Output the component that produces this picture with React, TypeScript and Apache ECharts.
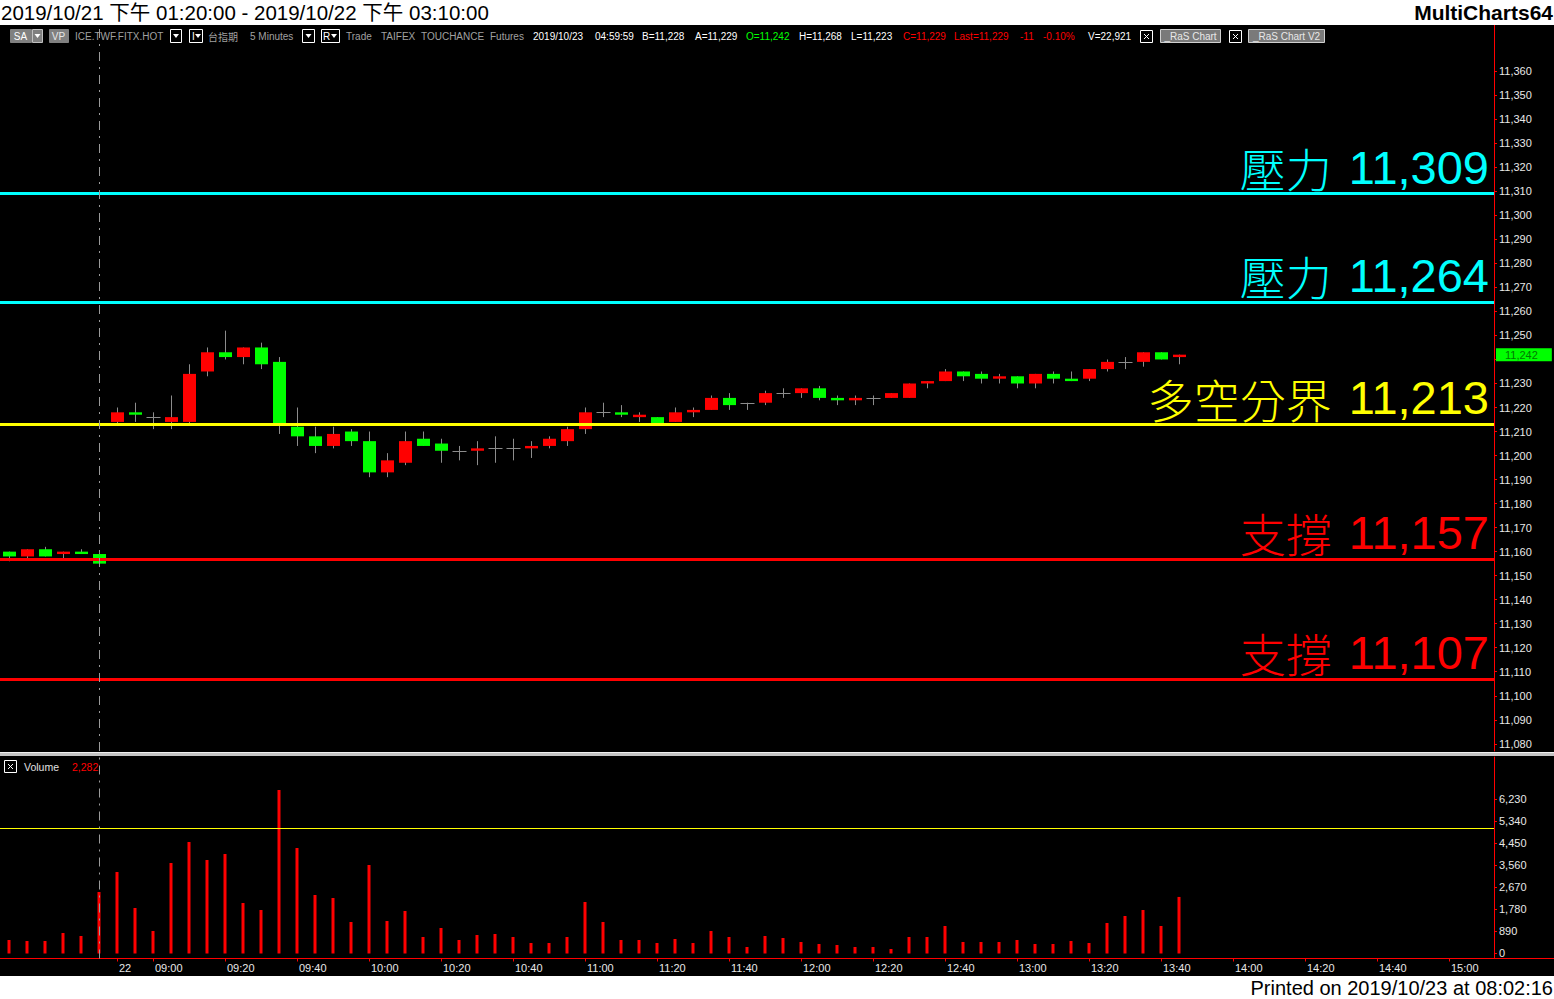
import React, { useEffect, useRef } from 'react';
import * as echarts from 'echarts';

// ---------- data ----------
const categories = [
  '10/21 13:20', '10/21 13:25', '10/21 13:30', '10/21 13:35', '10/21 13:40', '10/21 13:45',
  '10/22 08:50', '10/22 08:55',
  '10/22 09:00', '10/22 09:05', '10/22 09:10', '10/22 09:15', '10/22 09:20', '10/22 09:25',
  '10/22 09:30', '10/22 09:35', '10/22 09:40', '10/22 09:45', '10/22 09:50', '10/22 09:55',
  '10/22 10:00', '10/22 10:05', '10/22 10:10', '10/22 10:15', '10/22 10:20', '10/22 10:25',
  '10/22 10:30', '10/22 10:35', '10/22 10:40', '10/22 10:45', '10/22 10:50', '10/22 10:55',
  '10/22 11:00', '10/22 11:05', '10/22 11:10', '10/22 11:15', '10/22 11:20', '10/22 11:25',
  '10/22 11:30', '10/22 11:35', '10/22 11:40', '10/22 11:45', '10/22 11:50', '10/22 11:55',
  '10/22 12:00', '10/22 12:05', '10/22 12:10', '10/22 12:15', '10/22 12:20', '10/22 12:25',
  '10/22 12:30', '10/22 12:35', '10/22 12:40', '10/22 12:45', '10/22 12:50', '10/22 12:55',
  '10/22 13:00', '10/22 13:05', '10/22 13:10', '10/22 13:15', '10/22 13:20', '10/22 13:25',
  '10/22 13:30', '10/22 13:35', '10/22 13:40', '10/22 13:45', '10/22 13:50', '10/22 13:55',
  '10/22 14:00', '10/22 14:05', '10/22 14:10', '10/22 14:15', '10/22 14:20', '10/22 14:25',
  '10/22 14:30', '10/22 14:35', '10/22 14:40', '10/22 14:45', '10/22 14:50', '10/22 14:55',
  '10/22 15:00', '10/22 15:05', '10/22 15:10',
];

// [open, close, low, high]
const candles = [
  [11160, 11158, 11156, 11160], [11158, 11161, 11157, 11161], [11161, 11158, 11158, 11162],
  [11159, 11160, 11157, 11160], [11160, 11159, 11159, 11161], [11159, 11155, 11154, 11160],
  [11214, 11218, 11213, 11220], [11218, 11217, 11214, 11222], [11216, 11216, 11211, 11218],
  [11214, 11216, 11211, 11225], [11214, 11234, 11213, 11238], [11235, 11243, 11233, 11245],
  [11243, 11241, 11240, 11252], [11241, 11245, 11238, 11245], [11245, 11238, 11236, 11247],
  [11239, 11213, 11209, 11241], [11212, 11208, 11204, 11220], [11208, 11204, 11201, 11212],
  [11204, 11209, 11203, 11212], [11210, 11206, 11204, 11211], [11206, 11193, 11191, 11210],
  [11193, 11198, 11191, 11201], [11197, 11206, 11196, 11210], [11207, 11204, 11204, 11210],
  [11205, 11202, 11197, 11207], [11202, 11202, 11198, 11204], [11202, 11203, 11196, 11206],
  [11203, 11203, 11197, 11208], [11203, 11203, 11198, 11207], [11203, 11204, 11199, 11206],
  [11204, 11207, 11203, 11208], [11206, 11211, 11204, 11212], [11211, 11218, 11209, 11220],
  [11218, 11218, 11216, 11222], [11218, 11217, 11216, 11221], [11216, 11217, 11214, 11218],
  [11216, 11213, 11213, 11216], [11214, 11218, 11214, 11220], [11218, 11219, 11216, 11220],
  [11219, 11224, 11219, 11225], [11224, 11221, 11219, 11226], [11222, 11222, 11219, 11222],
  [11222, 11226, 11221, 11227], [11226, 11226, 11224, 11228], [11226, 11228, 11224, 11228],
  [11228, 11224, 11223, 11229], [11224, 11223, 11221, 11225], [11223, 11224, 11221, 11225],
  [11224, 11224, 11221, 11225], [11224, 11226, 11224, 11226], [11224, 11230, 11224, 11230],
  [11230, 11231, 11228, 11231], [11231, 11235, 11231, 11236], [11235, 11233, 11231, 11235],
  [11234, 11232, 11230, 11235], [11232, 11233, 11230, 11234], [11233, 11230, 11228, 11233],
  [11230, 11234, 11228, 11234], [11234, 11232, 11230, 11235], [11232, 11231, 11231, 11235],
  [11232, 11236, 11231, 11236], [11236, 11239, 11235, 11240], [11239, 11239, 11236, 11241],
  [11239, 11243, 11237, 11243], [11243, 11240, 11240, 11243], [11241, 11242, 11238, 11242],
];

const volumes = [
  545, 504, 504, 827, 706, 2481, 3289, 1836, 908, 3652, 4499, 3773, 4015, 2038, 1755, 6597,
  4257, 2360, 2239, 1271, 3571, 1311, 1715, 666, 1029, 545, 746, 787, 666, 424, 424, 666,
  2078, 1271, 545, 545, 424, 585, 424, 908, 666, 262, 706, 625, 464, 383, 343, 262, 262,
  182, 666, 666, 1110, 464, 464, 464, 545, 383, 383, 504, 424, 1231, 1513, 1755, 1110, 2282,
];

const priceTicks = [
  11080, 11090, 11100, 11110, 11120, 11130, 11140, 11150, 11160, 11170, 11180, 11190, 11200,
  11210, 11220, 11230, 11240, 11250, 11260, 11270, 11280, 11290, 11300, 11310, 11320, 11330,
  11340, 11350, 11360,
];
const volumeTicks = [0, 890, 1780, 2670, 3560, 4450, 5340, 6230];

const xTickCats = [
  '10/22 08:50', '10/22 09:00', '10/22 09:20', '10/22 09:40', '10/22 10:00', '10/22 10:20',
  '10/22 10:40', '10/22 11:00', '10/22 11:20', '10/22 11:40', '10/22 12:00', '10/22 12:20',
  '10/22 12:40', '10/22 13:00', '10/22 13:20', '10/22 13:40', '10/22 14:00', '10/22 14:20',
  '10/22 14:40', '10/22 15:00',
];
const xTickTexts = [
  '22', '09:00', '09:20', '09:40', '10:00', '10:20', '10:40', '11:00', '11:20', '11:40',
  '12:00', '12:20', '12:40', '13:00', '13:20', '13:40', '14:00', '14:20', '14:40', '15:00',
];

const levelNames = ['壓力', '壓力', '多空分界', '支撐', '支撐'];
const levelValues = [11309, 11264, 11213, 11157, 11107];
const volumeAlert = 5050;
const sessionBreak = '10/21 13:45';

const titleText = '2019/10/21 下午 01:20:00 - 2019/10/22 下午 03:10:00';
const brandText = 'MultiCharts64';
const printedText = 'Printed on 2019/10/23 at 08:02:16';

// ---------- styles ----------
const levelColors = ['#00ffff', '#00ffff', '#ffff00', '#ff0000', '#ff0000'];
const F = "'Liberation Sans', Arial, 'Noto Sans CJK TC', sans-serif";
const CJK = "'Noto Sans CJK TC', 'Noto Sans CJK SC', sans-serif";
const fmt = (v: number) => v.toLocaleString('en-US');

function tbText(x: number, text: string, fill: string, family = F) {
  return {
    type: 'text', x, y: 36, z: 50,
    style: { text, fill, font: `10px ${family}`, textVerticalAlign: 'middle', verticalAlign: 'middle' },
  };
}
function tri(cx: number, fill = '#ffffff') {
  return {
    type: 'polygon', z: 51,
    shape: { points: [[cx - 3, 34], [cx + 3, 34], [cx, 38]] },
    style: { fill },
  };
}
function box(x: number, w: number, fill = '#000000', stroke = '#ffffff') {
  return {
    type: 'rect', z: 50,
    shape: { x: x + 0.5, y: 29.5, width: w, height: 13 },
    style: { fill, stroke, lineWidth: 1 },
  };
}
function xBox(x: number, y: number) {
  return [
    { type: 'rect', z: 50, shape: { x: x + 0.5, y: y + 0.5, width: 12, height: 12 }, style: { fill: '#000', stroke: '#fff', lineWidth: 1 } },
    { type: 'line', z: 51, shape: { x1: x + 4, y1: y + 4, x2: x + 9, y2: y + 9 }, style: { stroke: '#fff', lineWidth: 1 } },
    { type: 'line', z: 51, shape: { x1: x + 9, y1: y + 4, x2: x + 4, y2: y + 9 }, style: { stroke: '#fff', lineWidth: 1 } },
  ];
}

function buildGraphics() {
  const g: any[] = [];
  // backgrounds
  g.push({ type: 'rect', z: -10, silent: true, shape: { x: 0, y: 0, width: 1554, height: 999 }, style: { fill: '#ffffff' } });
  g.push({ type: 'rect', z: -9, silent: true, shape: { x: 0, y: 25, width: 1554, height: 951 }, style: { fill: '#000000' } });
  // title row
  g.push({ type: 'text', x: 1, y: 12.5, z: 50, style: { text: titleText, fill: '#000', font: `20.5px ${F}`, textVerticalAlign: 'middle', verticalAlign: 'middle' } });
  g.push({ type: 'text', x: 1553, y: 12.5, z: 50, style: { text: brandText, fill: '#000', font: `bold 21px ${F}`, textAlign: 'right', align: 'right', textVerticalAlign: 'middle', verticalAlign: 'middle' } });
  g.push({ type: 'text', x: 1553, y: 988, z: 50, style: { text: printedText, fill: '#000', font: `20px ${F}`, textAlign: 'right', align: 'right', textVerticalAlign: 'middle', verticalAlign: 'middle' } });
  // pane separator
  g.push({ type: 'rect', z: 40, silent: true, shape: { x: 0, y: 752, width: 1554, height: 4 }, style: { fill: '#c4c4c4' } });
  g.push({ type: 'line', z: 41, silent: true, shape: { x1: 0, y1: 752.5, x2: 1554, y2: 752.5 }, style: { stroke: '#f0f0f0', lineWidth: 1 } });
  // axis extensions (decoration)
  g.push({ type: 'line', z: 40, silent: true, shape: { x1: 1494, y1: 958.5, x2: 1554, y2: 958.5 }, style: { stroke: '#ff0000', lineWidth: 1 } });
  g.push({ type: 'line', z: 40, silent: true, shape: { x1: 1494.5, y1: 25, x2: 1494.5, y2: 28 }, style: { stroke: '#ff0000', lineWidth: 1 } });

  // toolbar
  g.push(box(10, 21, '#808080', '#808080'));
  g.push({ type: 'text', x: 20.5, y: 36, z: 52, style: { text: 'SA', fill: '#ffffff', font: `10px ${F}`, textAlign: 'center', align: 'center', textVerticalAlign: 'middle', verticalAlign: 'middle' } });
  g.push(box(32, 10, '#808080', '#c0c0c0'));
  g.push(tri(37.5));
  g.push(box(49, 19, '#808080', '#808080'));
  g.push({ type: 'text', x: 58.5, y: 36, z: 52, style: { text: 'VP', fill: '#e8e8e8', font: `10px ${F}`, textAlign: 'center', align: 'center', textVerticalAlign: 'middle', verticalAlign: 'middle' } });
  g.push(tbText(75, 'ICE.TWF.FITX.HOT', '#a0a0a0'));
  g.push(box(170, 11));
  g.push(tri(176));
  g.push(box(189, 13));
  g.push(tbText(192, 'I', '#ffffff'));
  g.push(tri(198));
  g.push(tbText(208, '台指期', '#a0a0a0', CJK));
  g.push(tbText(250, '5 Minutes', '#a0a0a0'));
  g.push(box(302, 12));
  g.push(tri(308.5));
  g.push(box(321, 18));
  g.push(tbText(323, 'R', '#ffffff'));
  g.push(tri(334));
  g.push(tbText(346, 'Trade', '#a0a0a0'));
  g.push(tbText(381, 'TAIFEX', '#a0a0a0'));
  g.push(tbText(421, 'TOUCHANCE', '#a0a0a0'));
  g.push(tbText(490, 'Futures', '#a0a0a0'));
  g.push(tbText(533, '2019/10/23', '#ffffff'));
  g.push(tbText(595, '04:59:59', '#ffffff'));
  g.push(tbText(642, 'B=11,228', '#ffffff'));
  g.push(tbText(695, 'A=11,229', '#ffffff'));
  g.push(tbText(746, 'O=11,242', '#00ff00'));
  g.push(tbText(799, 'H=11,268', '#ffffff'));
  g.push(tbText(851, 'L=11,223', '#ffffff'));
  g.push(tbText(903, 'C=11,229', '#ff0000'));
  g.push(tbText(954, 'Last=11,229', '#ff0000'));
  g.push(tbText(1020, '-11', '#ff0000'));
  g.push(tbText(1043, '-0.10%', '#ff0000'));
  g.push(tbText(1088, 'V=22,921', '#ffffff'));
  g.push(...xBox(1140, 30));
  g.push({ type: 'rect', z: 50, shape: { x: 1160.5, y: 29.5, width: 60, height: 13 }, style: { fill: '#7a7a7a', stroke: '#d0d0d0', lineWidth: 1 } });
  g.push({ type: 'text', x: 1190.5, y: 36, z: 52, style: { text: '_RaS Chart', fill: '#e8e8e8', font: `10px ${F}`, textAlign: 'center', align: 'center', textVerticalAlign: 'middle', verticalAlign: 'middle' } });
  g.push(...xBox(1229, 30));
  g.push({ type: 'rect', z: 50, shape: { x: 1248.5, y: 29.5, width: 76, height: 13 }, style: { fill: '#7a7a7a', stroke: '#d0d0d0', lineWidth: 1 } });
  g.push({ type: 'text', x: 1286.5, y: 36, z: 52, style: { text: '_RaS Chart V2', fill: '#e8e8e8', font: `10px ${F}`, textAlign: 'center', align: 'center', textVerticalAlign: 'middle', verticalAlign: 'middle' } });

  // volume legend
  g.push(...xBox(4, 760));
  g.push({ type: 'text', x: 24, y: 766.5, z: 50, style: { text: 'Volume', fill: '#e0e0e0', font: `10.5px ${F}`, textVerticalAlign: 'middle', verticalAlign: 'middle' } });
  g.push({ type: 'text', x: 72, y: 766.5, z: 50, style: { text: fmt(volumes[volumes.length - 1]), fill: '#ff0000', font: `10.5px ${F}`, textVerticalAlign: 'middle', verticalAlign: 'middle' } });
  return g;
}

function renderCandle(params: any, api: any) {
  const x = api.value(0);
  const o = api.value(1);
  const c = api.value(2);
  const l = api.value(3);
  const h = api.value(4);
  const pH = api.coord([x, h]);
  const pL = api.coord([x, l]);
  const pO = api.coord([x, o]);
  const pC = api.coord([x, c]);
  const bw = Math.round(api.size([1, 0])[0] * 0.72);
  const cx = Math.round(pH[0]) + 0.5;
  const children: any[] = [
    { type: 'line', shape: { x1: cx, y1: pH[1], x2: cx, y2: pL[1] }, style: { stroke: '#8c8c8c', lineWidth: 1 } },
  ];
  if (o === c) {
    children.push({ type: 'line', shape: { x1: cx - bw / 2 - 0.5, y1: Math.round(pO[1]) + 0.5, x2: cx + bw / 2 + 0.5, y2: Math.round(pO[1]) + 0.5 }, style: { stroke: '#8c8c8c', lineWidth: 1 } });
  } else {
    const top = Math.min(pO[1], pC[1]);
    const hgt = Math.max(2, Math.abs(pO[1] - pC[1]));
    children.push({ type: 'rect', shape: { x: cx - bw / 2, y: top, width: bw, height: hgt }, style: { fill: c > o ? '#ff0000' : '#00ff00' } });
  }
  return { type: 'group', children };
}

function buildOption() {
  const tickSet = new Set(xTickCats);
  const lastClose = candles[candles.length - 1][1];
  // the last-price marker covers the nearest price label, as in the original
  const priceLabelValues = priceTicks.filter((v) => Math.abs(v - lastClose) > 5);
  const levelLines = levelValues.map((v, i) => ({
    yAxis: v,
    lineStyle: { color: levelColors[i], width: 3, type: 'solid' },
    label: {
      show: true,
      position: 'insideEndTop',
      distance: [5, 3],
      formatter: `{a|${levelNames[i]}}{b|${fmt(v)}}`,
      rich: {
        a: { fontFamily: CJK, fontSize: 46, fontWeight: 300, color: levelColors[i], padding: [0, 17, 0, 0] },
        b: { fontFamily: F, fontSize: 47, color: levelColors[i] },
      },
    },
  }));
  return {
    animation: false,
    backgroundColor: 'transparent',
    graphic: { elements: buildGraphics() },
    grid: [
      { left: 0, top: 28, width: 1494, height: 723 },
      { left: 0, top: 757, width: 1494, height: 201.5 },
    ],
    xAxis: [
      { type: 'category', gridIndex: 0, data: categories, show: false, boundaryGap: true },
      {
        type: 'category', gridIndex: 1, data: categories, boundaryGap: true,
        axisLine: { show: true, onZero: false, lineStyle: { color: '#ff0000', width: 1 } },
        axisTick: {
          show: true, alignWithLabel: true, length: 3, lineStyle: { color: '#ff0000' },
          interval: (_i: number, v: string) => tickSet.has(v),
        },
        axisLabel: {
          show: true, color: '#e8e8e8', fontSize: 11, fontFamily: F, margin: 4, align: 'left', padding: [0, 0, 0, 2],
          interval: (_i: number, v: string) => tickSet.has(v),
          formatter: (v: string) => { const k = xTickCats.indexOf(v); return k >= 0 ? xTickTexts[k] : ''; },
        },
        splitLine: { show: false },
      },
    ],
    yAxis: [
      {
        type: 'value', gridIndex: 0, position: 'right', min: 11077, max: 11378,
        splitLine: { show: false },
        axisLine: { show: true, lineStyle: { color: '#ff0000', width: 1 } },
        axisTick: { show: true, length: 3, lineStyle: { color: '#ff0000' }, customValues: priceTicks },
        axisLabel: { show: true, customValues: priceLabelValues, formatter: (v: number) => fmt(v), color: '#e8e8e8', fontSize: 11, fontFamily: F, margin: 5 },
      },
      {
        type: 'value', gridIndex: 1, position: 'right', min: -202, max: 7928,
        splitLine: { show: false },
        axisLine: { show: true, lineStyle: { color: '#ff0000', width: 1 } },
        axisTick: { show: true, length: 3, lineStyle: { color: '#ff0000' }, customValues: volumeTicks },
        axisLabel: { show: true, customValues: volumeTicks, formatter: (v: number) => fmt(v), color: '#e8e8e8', fontSize: 11, fontFamily: F, margin: 5 },
      },
    ],
    series: [
      {
        type: 'custom', name: 'Price', xAxisIndex: 0, yAxisIndex: 0,
        data: candles.map((d, i) => [i, d[0], d[1], d[2], d[3]]),
        encode: { x: 0, y: [1, 2, 3, 4] },
        renderItem: renderCandle,
        z: 5,
        markLine: {
          silent: true, symbol: ['none', 'none'], animation: false, z: 10,
          data: [
            ...levelLines,
            { xAxis: sessionBreak, lineStyle: { color: '#9a9a9a', width: 1, type: [9, 6, 2, 6] }, label: { show: false } },
            {
              yAxis: lastClose,
              lineStyle: { width: 0, color: 'rgba(0,0,0,0)' },
              label: {
                show: true, position: 'end', distance: 2, formatter: fmt(lastClose),
                backgroundColor: '#00ff00', color: '#007a00', fontSize: 11, fontFamily: F,
                padding: [1, 14, 1, 9],
              },
            },
          ],
        },
      },
      {
        type: 'bar', name: 'Volume', xAxisIndex: 1, yAxisIndex: 1,
        data: volumes, barWidth: 3,
        itemStyle: { color: '#ff0000' },
        markLine: {
          silent: true, symbol: ['none', 'none'], animation: false,
          data: [
            { yAxis: volumeAlert, lineStyle: { color: '#ffff00', width: 1, type: 'solid' }, label: { show: false } },
            { xAxis: sessionBreak, lineStyle: { color: '#9a9a9a', width: 1, type: [9, 6, 2, 6] }, label: { show: false } },
          ],
        },
      },
    ],
  };
}

export default function App() {
  const ref = useRef<HTMLDivElement>(null);
  useEffect(() => {
    document.body.style.margin = '0';
    if (!ref.current) return;
    const chart = echarts.init(ref.current, null, { renderer: 'svg' });
    chart.setOption(buildOption() as any);
    return () => chart.dispose();
  }, []);
  return (
    <div
      ref={ref}
      style={{ position: 'absolute', left: 0, top: 0, width: 1554, height: 999, background: '#ffffff' }}
    />
  );
}
